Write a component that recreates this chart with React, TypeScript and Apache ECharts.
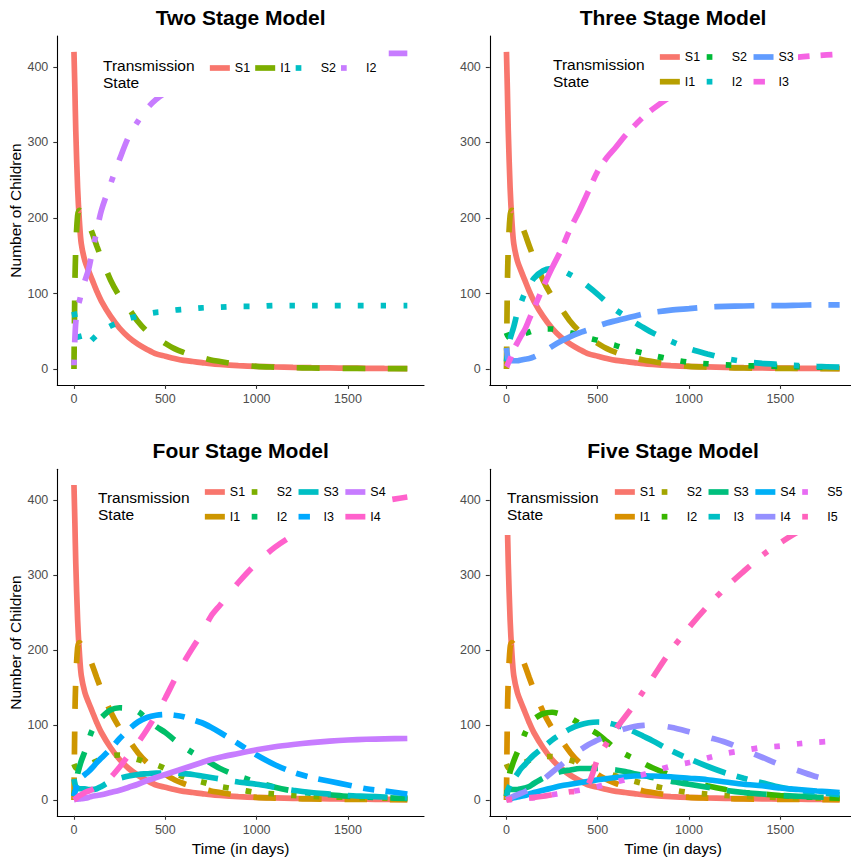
import { useEffect, useRef } from "react";
import * as echarts from "echarts";

// ---- data -------------------------------------------------------------
// Sampling days shared by every compartment curve.
const days = [0, 5, 10, 20, 30, 40, 60, 80, 100, 125, 150, 200, 250, 300, 350, 400, 450, 500, 550, 600, 650, 700, 750, 800, 900, 1000, 1100, 1200, 1300, 1400, 1500, 1600, 1700, 1825];

// First susceptible / infected stage (same dynamics in every model)
const s1 = [420, 370, 315, 240, 195, 166, 143, 130, 118, 103, 90, 70, 54, 42, 33, 26, 20, 17, 14, 11.5, 10, 8.5, 7, 6, 4.5, 3.5, 2.8, 2.2, 1.8, 1.5, 1.2, 1, 0.8, 0.6];
const i1 = [0, 110, 160, 203, 210, 207, 200, 192, 180, 163, 147, 118, 96, 80, 63, 50, 42, 34, 27, 22, 18, 15, 12, 10, 6, 3.5, 2.5, 1.8, 1.4, 1.1, 0.9, 0.7, 0.6, 0.5];

// Two stage model
const s2Two = [76, 70, 63, 50, 40, 34, 31, 34, 39, 45, 50, 57, 62, 67, 70, 73, 75, 76, 78, 79, 80, 81, 81.5, 82, 83, 83, 84, 84, 84, 84, 84, 84, 84, 84];
const i2Two = [5, 40, 62, 82, 90, 100, 117, 132, 155, 183, 210, 245, 278, 308, 328, 345, 357, 366, 374, 380, 386, 390, 394, 397, 402, 406, 409, 411, 413, 415, 416, 417, 418, 418];

// Three stage model
const s2Three = [48, 45, 43, 41, 41, 42, 43, 45, 47, 49, 51, 53, 53, 51, 48, 45, 41, 38, 34, 31, 27, 24, 21, 18, 13, 9, 7, 5.5, 4.5, 4, 3.5, 3, 2.5, 2];
const i2Three = [10, 20, 28, 40, 48, 56, 75, 88, 100, 110, 120, 130, 133, 131, 125, 118, 109, 99, 88, 78, 70, 62, 55, 48, 37, 27, 20, 14, 10, 7.5, 6, 4.5, 3.5, 2.5];
const s3Three = [28, 18, 13, 11, 11, 11, 11, 12, 13, 14, 16, 22, 30, 37, 43, 48, 52, 57, 61, 64, 67, 70, 73, 75, 78, 80, 82, 83, 83.5, 84, 84, 84.5, 85, 85];
const i3Three = [3, 5, 8, 13, 20, 26, 35, 44, 52, 66, 80, 108, 134, 158, 186, 210, 236, 262, 280, 294, 309, 322, 334, 344, 361, 376, 386, 395, 401, 406, 410, 413, 415, 417];

// Four stage model
const s2Four = [48, 45, 43, 42, 42, 43, 44, 46, 49, 52, 55, 59, 60, 57, 54, 50, 47, 42, 36, 31, 27, 24, 21, 18, 14, 10, 8, 6, 5, 4, 3.5, 3, 2.5, 2];
const i2Four = [5, 14, 22, 35, 44, 52, 65, 80, 93, 103, 110, 120, 123, 122, 118, 108, 98, 90, 80, 71, 63, 56, 49, 42, 32, 24, 17, 12, 9, 7, 5, 4, 3, 2];
const s3Four = [28, 22, 18, 16, 15, 15, 15, 14, 14, 15, 18, 25, 29, 32, 34, 35, 36, 36, 36, 35, 34, 32, 30, 28, 24, 21, 17, 13, 10, 8, 6, 5, 4, 3];
const i3Four = [5, 10, 15, 22, 27, 30, 34, 38, 43, 50, 56, 68, 82, 94, 104, 110, 113, 114, 113, 111, 107, 103, 97, 90, 75, 60, 47, 37, 30, 25, 20, 15, 12, 8];
const s4Four = [0.5, 0.7, 1, 1.2, 1.5, 1.8, 2.5, 3.5, 5, 6, 7, 10, 13, 17, 21, 26, 30, 34, 38, 42, 46, 50, 54, 57, 62, 67, 71, 74, 76.5, 78.5, 80, 81, 81.5, 82];
const i4Four = [0, 1, 2, 4, 6, 7, 10, 12, 14, 17, 20, 30, 44, 60, 76, 94, 114, 136, 160, 183, 203, 222, 245, 260, 290, 316, 337, 353, 366, 377, 386, 393, 399, 404];

// Five stage model
const s2Five = [48, 45, 43, 42, 42, 43, 44, 47, 50, 53, 55, 58, 58, 56, 53, 49, 45, 41, 36, 32, 28, 25, 22, 19, 14, 10, 8, 6, 5, 4, 3.5, 3, 2.5, 2];
const i2Five = [5, 15, 25, 38, 45, 52, 64, 75, 88, 100, 108, 115, 117, 114, 109, 102, 95, 88, 78, 68, 61, 55, 49, 43, 33, 25, 19, 14, 10, 8, 6, 4.5, 3.5, 2.5];
const s3Five = [10, 12, 13, 14, 14, 14, 14, 15, 16, 18, 22, 29, 34, 38, 40, 42, 42, 42, 41, 40, 38, 35, 33, 30, 25, 21, 17, 13, 10, 8, 6, 5, 4, 3];
const i3Five = [5, 10, 15, 20, 24, 28, 35, 42, 47, 54, 60, 70, 80, 88, 95, 100, 103, 104, 103, 100, 96, 91, 85, 79, 66, 55, 45, 36, 29, 23, 17, 13, 10, 7];
const s4Five = [1, 1.2, 1.5, 2, 2.5, 3, 4, 5, 6, 8, 10, 13, 16, 19, 21, 23, 25, 27, 28.5, 30, 31, 32, 32, 32, 31, 29, 27, 24, 21, 19, 16, 14, 12, 10];
const i4Five = [0, 1, 2, 3, 4, 5, 7, 9, 11, 14, 18, 27, 37, 47, 57, 66, 74, 80, 86, 91, 95, 98, 99.5, 100, 97, 91, 84, 77, 67, 57, 47, 39, 31, 24];
const s5Five = [0, 0.2, 0.4, 0.6, 0.8, 1, 1.3, 1.7, 2, 2.5, 3, 5, 7, 9, 11, 13, 15, 18, 21, 24, 27, 31, 34, 38, 45, 50, 56, 62, 66, 70, 72, 75, 77, 79];
const i5Five = [0, 0.2, 0.4, 0.7, 1, 1.2, 1.6, 2, 2.5, 3, 3.5, 5, 7, 9, 11, 12, 22, 55, 76, 95, 111, 127, 145, 163, 199, 230, 258, 283, 305, 326, 343, 358, 370, 382];

const xTicks = [0, 500, 1000, 1500];
const yTicks = [0, 100, 200, 300, 400];

// ---- styling ----------------------------------------------------------
const FONT = "'Liberation Sans', Arial, Helvetica, sans-serif";
const LW = 5.7;
// solid, dashed, dotted, dotdash, longdash, twodash (dash lengths scale with line width)
const LINE_TYPES: any[] = [
  "solid",
  [4 * LW, 4 * LW],
  [LW, 3 * LW],
  [LW, 3 * LW, 4 * LW, 3 * LW],
  [7 * LW, 3 * LW],
  [2 * LW, 2 * LW, 6 * LW, 2 * LW],
];

const hue4 = ["#F8766D", "#7CAE00", "#00BFC4", "#C77CFF"];
const hue6 = ["#F8766D", "#B79F00", "#00BA38", "#00BFC4", "#619CFF", "#F564E3"];
const hue8 = ["#F8766D", "#CD9600", "#7CAE00", "#00BE67", "#00BFC4", "#00A9FF", "#C77CFF", "#FF61CC"];
const hue10 = ["#F8766D", "#D89000", "#A3A500", "#39B600", "#00BF7D", "#00BFC4", "#00B0F6", "#9590FF", "#E76BF3", "#FF62BC"];

type Panel = {
  id: string;
  title: string;
  states: string[];
  values: number[][];
  colors: string[];
  grid: { left: number; top: number; width: number; height: number };
  xName: boolean;
  yName: boolean;
  legend: { left: number; top: number; orient: "horizontal" | "vertical"; gap: number };
  legendTitle: { x: number; y: number };
  box: { x: number; y: number; w: number; h: number };
};

const panels: Panel[] = [
  {
    id: "two",
    title: "Two Stage Model",
    states: ["S1", "I1", "S2", "I2"],
    values: [s1, i1, s2Two, i2Two],
    colors: hue4,
    grid: { left: 57.3, top: 36, width: 366.7, height: 348.9 },
    xName: false,
    yName: true,
    legend: { left: 207, top: 57.5, orient: "horizontal", gap: 2.2 },
    legendTitle: { x: 103, y: 56.5 },
    box: { x: 96, y: 50, w: 290, h: 47 },
  },
  {
    id: "three",
    title: "Three Stage Model",
    states: ["S1", "I1", "S2", "I2", "S3", "I3"],
    values: [s1, i1, s2Three, i2Three, s3Three, i3Three],
    colors: hue6,
    grid: { left: 489.8, top: 36, width: 366.5, height: 348.9 },
    xName: false,
    yName: false,
    legend: { left: 657, top: 46.5, orient: "vertical", gap: 3.7 },
    legendTitle: { x: 553, y: 55.5 },
    box: { x: 546, y: 42, w: 252, h: 59 },
  },
  {
    id: "four",
    title: "Four Stage Model",
    states: ["S1", "I1", "S2", "I2", "S3", "I3", "S4", "I4"],
    values: [s1, i1, s2Four, i2Four, s3Four, i3Four, s4Four, i4Four],
    colors: hue8,
    grid: { left: 57.3, top: 469.25, width: 366.7, height: 346.5 },
    xName: true,
    yName: true,
    legend: { left: 202, top: 481.5, orient: "vertical", gap: 3.7 },
    legendTitle: { x: 98, y: 488.5 },
    box: { x: 91, y: 477, w: 299, h: 58 },
  },
  {
    id: "five",
    title: "Five Stage Model",
    states: ["S1", "I1", "S2", "I2", "S3", "I3", "S4", "I4", "S5", "I5"],
    values: [s1, i1, s2Five, i2Five, s3Five, i3Five, s4Five, i4Five, s5Five, i5Five],
    colors: hue10,
    grid: { left: 489.8, top: 469.25, width: 366.5, height: 346.5 },
    xName: true,
    yName: false,
    legend: { left: 612, top: 481.5, orient: "vertical", gap: 3.7 },
    legendTitle: { x: 507, y: 488.5 },
    box: { x: 500, y: 477, w: 346, h: 58 },
  },
];

function buildOption() {
  const series: any[] = [];
  panels.forEach((p, pi) => {
    p.states.forEach((state, k) => {
      series.push({
        type: "line",
        name: `${p.id}:${state}`,
        xAxisIndex: pi,
        yAxisIndex: pi,
        data: days.map((d, j) => [d, p.values[k][j]]),
        symbol: "none",
        smooth: 0.3,
        lineStyle: { color: p.colors[k], width: LW, type: LINE_TYPES[k % LINE_TYPES.length], cap: "butt" },
        itemStyle: { color: p.colors[k] },
        z: 2,
      });
    });
  });

  const plain = (v: number) => String(v);

  return {
    animation: false,
    backgroundColor: "#ffffff",
    title: panels.map((p) => ({
      text: p.title,
      left: p.grid.left + p.grid.width / 2,
      top: p.grid.top < 100 ? 7 : 440,
      textAlign: "center",
      textVerticalAlign: "top",
      padding: 0,
      textStyle: { fontSize: 21, fontWeight: "bold", color: "#000", fontFamily: FONT },
    })),
    grid: panels.map((p) => ({ ...p.grid, containLabel: false, outerBoundsMode: "none" })),
    xAxis: panels.map((p, pi) => ({
      type: "value",
      gridIndex: pi,
      min: -91.25,
      max: 1916.25,
      name: p.xName ? "Time (in days)" : "",
      nameLocation: "middle",
      nameGap: 25,
      nameTextStyle: { fontSize: 15.5, color: "#000", fontFamily: FONT },
      axisLine: { onZero: false, lineStyle: { color: "#000", width: 1.1 } },
      axisTick: { length: 4, customValues: xTicks, lineStyle: { color: "#333", width: 1.1 } },
      axisLabel: { customValues: xTicks, formatter: plain, color: "#4D4D4D", fontSize: 12.5, fontFamily: FONT, margin: 8 },
      splitLine: { show: false },
    })),
    yAxis: panels.map((p, pi) => ({
      type: "value",
      gridIndex: pi,
      min: -21,
      max: 441,
      name: p.yName ? "Number of Children" : "",
      nameLocation: "middle",
      nameGap: 31,
      nameTextStyle: { fontSize: 15.5, color: "#000", fontFamily: FONT },
      axisLine: { onZero: false, lineStyle: { color: "#000", width: 1.1 } },
      axisTick: { length: 4, customValues: yTicks, lineStyle: { color: "#333", width: 1.1 } },
      axisLabel: { customValues: yTicks, formatter: plain, color: "#4D4D4D", fontSize: 12.5, fontFamily: FONT, margin: 9 },
      splitLine: { show: false },
    })),
    legend: panels.map((p) => ({
      data: p.states.map((s) => `${p.id}:${s}`),
      orient: p.legend.orient,
      left: p.legend.left,
      top: p.legend.top,
      ...(p.legend.orient === "vertical" ? { height: 47 } : {}),
      itemWidth: 20,
      itemHeight: 17.5,
      itemGap: p.legend.gap,
      padding: 0,
      align: "left",
      selectedMode: false,
      formatter: (n: string) => n.split(":")[1],
      textStyle: { fontSize: 12.5, lineHeight: 21, color: "#000", fontFamily: FONT },
      lineStyle: { width: LW },
      itemStyle: { opacity: 0 },
      z: 6,
    })),
    graphic: panels.flatMap((p) => [
      {
        type: "rect",
        silent: true,
        z: 4,
        shape: { x: p.box.x, y: p.box.y, width: p.box.w, height: p.box.h },
        style: { fill: "#ffffff" },
      },
      {
        type: "text",
        silent: true,
        z: 7,
        x: p.legendTitle.x,
        y: p.legendTitle.y,
        style: {
          text: "Transmission\nState",
          fontSize: 15.5,
          fontFamily: FONT,
          fill: "#000",
          lineHeight: 17,
          verticalAlign: "top",
        },
      },
    ]),
    series,
  };
}

export default function App() {
  const ref = useRef<HTMLDivElement>(null);

  useEffect(() => {
    if (!ref.current) return;
    const chart = echarts.init(ref.current, undefined, { renderer: "svg" });
    chart.setOption(buildOption() as any);
    return () => chart.dispose();
  }, []);

  return (
    <div
      ref={ref}
      style={{ position: "fixed", left: 0, top: 0, width: 851, height: 863, background: "#fff" }}
    />
  );
}
